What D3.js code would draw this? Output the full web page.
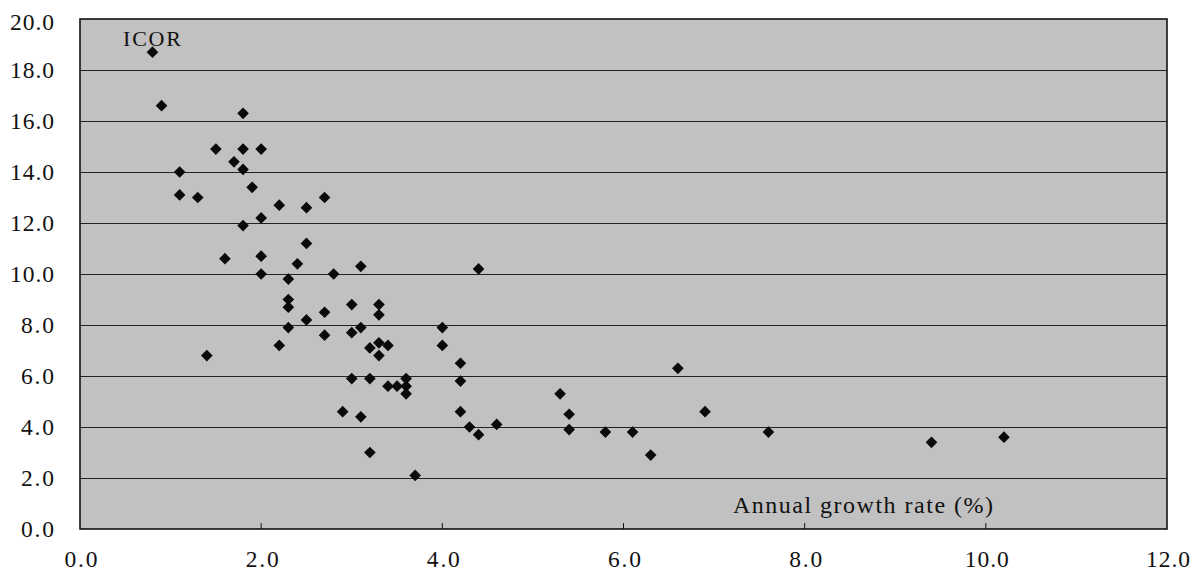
<!DOCTYPE html>
<html>
<head>
<meta charset="utf-8">
<script src="https://cdn.jsdelivr.net/npm/d3@7"></script>
<style>
  html, body { margin: 0; padding: 0; background: #ffffff; }
  svg { display: block; }
  text { font-family: "Liberation Serif", "Times New Roman", serif; fill: #111; }
</style>
</head>
<body>
<svg id="chart" width="1202" height="578"></svg>
<script>
// Annual growth rate (%) for each observation
const growthRate = [
  0.8, 0.9, 1.8, 1.5, 1.8, 2.0, 1.7, 1.8, 1.1, 1.9,
  1.1, 1.3, 2.7, 2.2, 2.5, 2.0, 1.8, 2.5, 2.0, 1.6,
  2.4, 3.1, 4.4, 2.0, 2.8, 2.3, 2.3, 3.0, 3.3, 2.3,
  2.7, 3.3, 2.5, 2.3, 3.1, 4.0, 3.0, 2.7, 3.3, 2.2,
  3.4, 4.0, 3.2, 3.3, 1.4, 4.2, 6.6, 3.0, 3.2, 3.6,
  4.2, 3.4, 3.5, 3.6, 3.6, 5.3, 2.9, 4.2, 6.9, 5.4,
  3.1, 4.6, 4.3, 5.4, 5.8, 6.1, 7.6, 4.4, 10.2, 9.4,
  3.2, 6.3, 3.7
];

// Incremental capital-output ratio for the same observations
const icor = [
  18.7, 16.6, 16.3, 14.9, 14.9, 14.9, 14.4, 14.1, 14.0, 13.4,
  13.1, 13.0, 13.0, 12.7, 12.6, 12.2, 11.9, 11.2, 10.7, 10.6,
  10.4, 10.3, 10.2, 10.0, 10.0, 9.8, 9.0, 8.8, 8.8, 8.7,
  8.5, 8.4, 8.2, 7.9, 7.9, 7.9, 7.7, 7.6, 7.3, 7.2,
  7.2, 7.2, 7.1, 6.8, 6.8, 6.5, 6.3, 5.9, 5.9, 5.9,
  5.8, 5.6, 5.6, 5.6, 5.3, 5.3, 4.6, 4.6, 4.6, 4.5,
  4.4, 4.1, 4.0, 3.9, 3.8, 3.8, 3.8, 3.7, 3.6, 3.4,
  3.0, 2.9, 2.1
];

// Axis ticks
const xTicks = [0, 2, 4, 6, 8, 10, 12];
const yTicks = [0, 2, 4, 6, 8, 10, 12, 14, 16, 18, 20];

const yAxisTitle = "ICOR";
const xAxisTitle = "Annual growth rate (%)";

const svg = d3.select("#chart");

const plot = { left: 80, right: 1167, top: 19, bottom: 529 };

const x = d3.scaleLinear().domain([0, 12]).range([plot.left, plot.right]);
const y = d3.scaleLinear().domain([0, 20]).range([plot.bottom, plot.top]);
const fmt = d3.format(".1f");

// Plot area background
svg.append("rect")
  .attr("x", plot.left)
  .attr("y", plot.top)
  .attr("width", plot.right - plot.left)
  .attr("height", plot.bottom - plot.top)
  .attr("fill", "#c1c1c1");

// Horizontal gridlines
svg.append("g")
  .selectAll("line")
  .data(yTicks.filter(t => t > 0 && t < 20))
  .join("line")
  .attr("x1", plot.left)
  .attr("x2", plot.right)
  .attr("y1", d => Math.round(y(d)) + 0.5)
  .attr("y2", d => Math.round(y(d)) + 0.5)
  .attr("stroke", "#222")
  .attr("stroke-width", 1);

// Frame
svg.append("rect")
  .attr("x", plot.left)
  .attr("y", plot.top)
  .attr("width", plot.right - plot.left)
  .attr("height", plot.bottom - plot.top)
  .attr("fill", "none")
  .attr("stroke", "#111")
  .attr("stroke-width", 1.6);

// Small inward tick marks along the bottom edge
svg.append("g")
  .selectAll("line")
  .data(xTicks.filter(t => t > 0 && t < 12))
  .join("line")
  .attr("x1", d => x(d))
  .attr("x2", d => x(d))
  .attr("y1", plot.bottom)
  .attr("y2", plot.bottom - 6)
  .attr("stroke", "#111")
  .attr("stroke-width", 1);

// Y tick labels
svg.append("g")
  .selectAll("text")
  .data(yTicks)
  .join("text")
  .attr("x", 54)
  .attr("y", d => (d === 20 ? y(d) + 3 : y(d)) + 8)
  .attr("text-anchor", "end")
  .attr("font-size", 23.5)
  .attr("textLength", d => fmt(d).length * 11)
  .attr("lengthAdjust", "spacing")
  .text(d => fmt(d));

// X tick labels
svg.append("g")
  .selectAll("text")
  .data(xTicks)
  .join("text")
  .attr("x", d => x(d) + 1)
  .attr("y", 567)
  .attr("text-anchor", "middle")
  .attr("font-size", 23.5)
  .attr("textLength", d => fmt(d).length * 11)
  .attr("lengthAdjust", "spacing")
  .text(d => fmt(d));

// Axis titles inside the plot
svg.append("text")
  .attr("x", 123)
  .attr("y", 46)
  .attr("font-size", 22)
  .attr("textLength", 58)
  .attr("lengthAdjust", "spacing")
  .text(yAxisTitle);

svg.append("text")
  .attr("x", 733)
  .attr("y", 513)
  .attr("font-size", 24)
  .attr("textLength", 260)
  .attr("lengthAdjust", "spacing")
  .text(xAxisTitle);

// Data points as black diamonds
const diamond = d3.symbol().type(d3.symbolSquare).size(68);
const points = growthRate.map((g, i) => ({ g, v: icor[i] }));

svg.append("g")
  .selectAll("path")
  .data(points)
  .join("path")
  .attr("d", diamond)
  .attr("transform", d => `translate(${x(d.g)},${y(d.v)}) rotate(45)`)
  .attr("fill", "#0a0a0a");
</script>
</body>
</html>
